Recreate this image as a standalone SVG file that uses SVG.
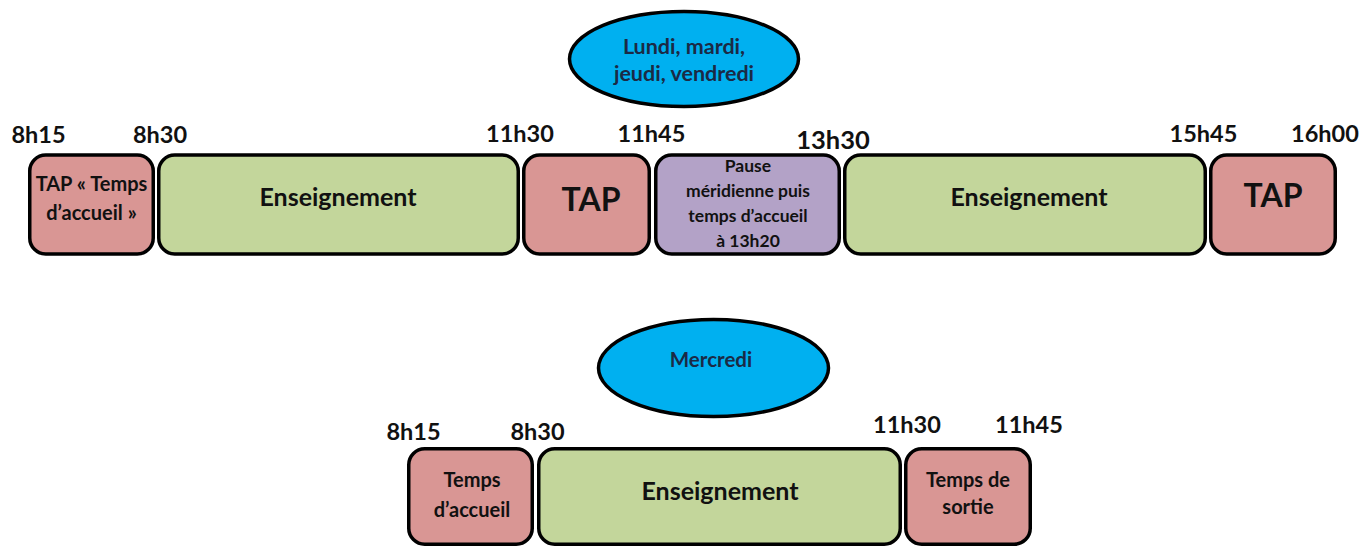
<svg xmlns="http://www.w3.org/2000/svg" width="1365" height="547" viewBox="0 0 1365 547">
<style>
text{font-family:Lato,"Open Sans","Liberation Sans",sans-serif;font-weight:bold;fill:#111;text-anchor:middle}
.box{stroke:#000;stroke-width:3.5}
.tap{fill:#d99694}
.ens{fill:#c3d69b}
.pau{fill:#b3a2c7}
.ell{fill:#00b0f0;stroke:#000;stroke-width:3.5}
.t{font-size:23.5px}
.s{font-size:20px}
.e{font-size:25px}
.b{font-size:32px}
.p{font-size:17.5px}
.d{fill:#1b2a45}
</style>
<rect width="1365" height="547" fill="#fff"/>
<g id="connectors"></g>
<g id="labels-top">
<text class="t" x="38.5" y="143">8h15</text>
<text class="t" x="160" y="143">8h30</text>
<text class="t" x="520" y="142">11h30</text>
<text class="t" x="651.5" y="142">11h45</text>
<text class="t" x="833" y="149" style="font-size:25.5px">13h30</text>
<text class="t" x="1203.5" y="142">15h45</text>
<text class="t" x="1325" y="142">16h00</text>
</g>
<g id="ellipse-lmjv">
<ellipse class="ell" cx="684" cy="59" rx="114.5" ry="47.5"/>
<text class="d" x="684" y="54" style="font-size:21.5px">Lundi, mardi,</text>
<text class="d" x="684" y="81" style="font-size:21.5px">jeudi, vendredi</text>
</g>
<g id="top-tap1">
<rect class="box tap" x="29.75" y="155" width="123.5" height="99" rx="16"/>
<text class="s" x="91.5" y="191">TAP « Temps</text>
<text class="s" x="91.5" y="220">d’accueil »</text>
</g>
<g id="top-ens1">
<rect class="box ens" x="158.75" y="155" width="359.5" height="99" rx="16"/>
<text class="e" x="338" y="206">Enseignement</text>
</g>
<g id="top-tap2">
<rect class="box tap" x="523.75" y="155" width="125.5" height="99" rx="16"/>
<text class="b" x="591" y="211">TAP</text>
</g>
<g id="top-pause">
<rect class="box pau" x="655.75" y="155" width="183.5" height="99" rx="16"/>
<text class="p" x="748" y="172">Pause</text>
<text class="p" x="748" y="197">méridienne puis</text>
<text class="p" x="748" y="222">temps d’accueil</text>
<text class="p" x="748" y="247">à 13h20</text>
</g>
<g id="top-ens2">
<rect class="box ens" x="844.75" y="155" width="360.5" height="99" rx="16"/>
<text class="e" x="1029" y="206">Enseignement</text>
</g>
<g id="top-tap3">
<rect class="box tap" x="1210.75" y="155" width="124.5" height="99" rx="16"/>
<text class="b" x="1273" y="207">TAP</text>
</g>
<g id="ellipse-mercredi">
<ellipse class="ell" cx="713.5" cy="368" rx="115" ry="48.5"/>
<text class="d" x="711" y="367" style="font-size:20.5px">Mercredi</text>
</g>
<g id="labels-bottom">
<text class="t" x="413.5" y="440">8h15</text>
<text class="t" x="537.5" y="440">8h30</text>
<text class="t" x="907" y="433">11h30</text>
<text class="t" x="1029" y="433">11h45</text>
</g>
<g id="wed-accueil">
<rect class="box tap" x="408.75" y="448.75" width="123.5" height="95.5" rx="16"/>
<text class="s" x="472" y="487">Temps</text>
<text class="s" x="472" y="517">d’accueil</text>
</g>
<g id="wed-ens">
<rect class="box ens" x="538.75" y="448.75" width="361.5" height="95.5" rx="16"/>
<text class="e" x="720" y="500">Enseignement</text>
</g>
<g id="wed-sortie">
<rect class="box tap" x="905.75" y="448.75" width="124.5" height="95.5" rx="16"/>
<text class="s" x="968" y="487">Temps de</text>
<text class="s" x="968" y="514">sortie</text>
</g>
</svg>
